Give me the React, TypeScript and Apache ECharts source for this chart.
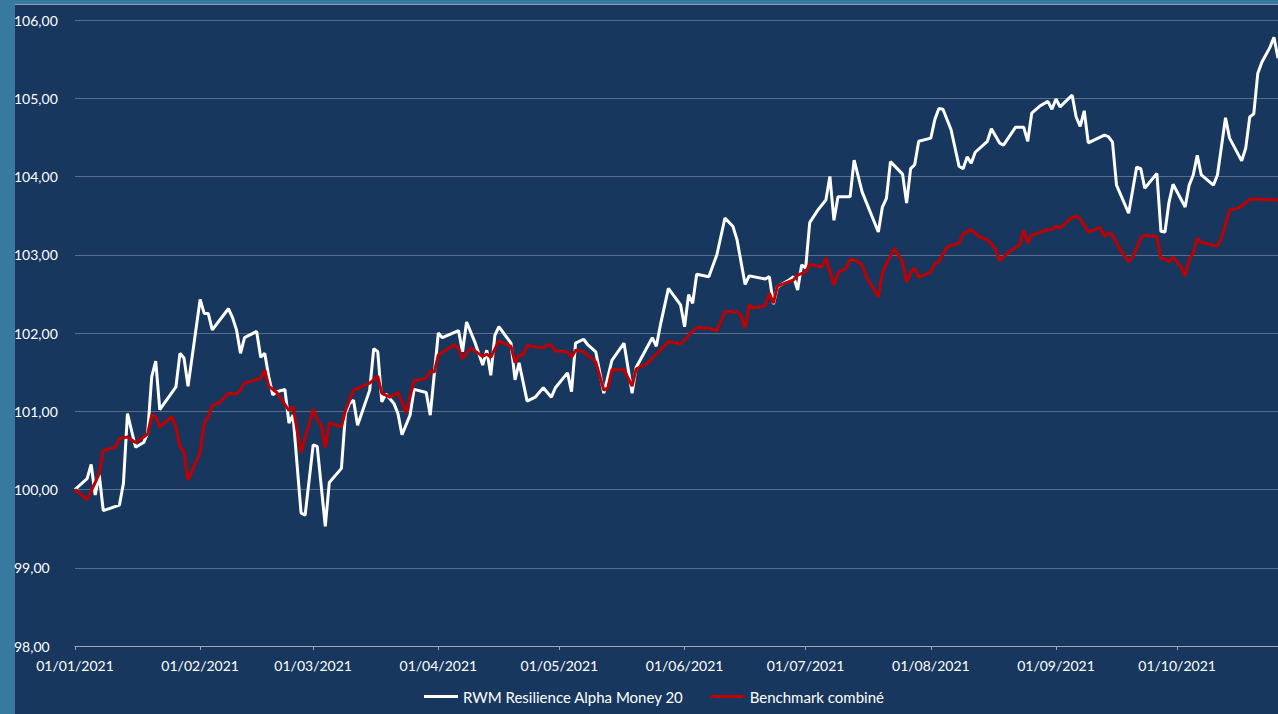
import React, { useEffect, useRef } from "react";
import * as echarts from "echarts";

const fundName = "RWM Resilience Alpha Money 20";
const benchName = "Benchmark combiné";

const axisStart = "2021-01-01";
const axisEnd = "2021-10-26";
const monthTicks = [
  "2021-01-01", "2021-02-01", "2021-03-01", "2021-04-01", "2021-05-01",
  "2021-06-01", "2021-07-01", "2021-08-01", "2021-09-01", "2021-10-01",
];
const yMin = 98;
const yMax = 106;
const yStep = 1;

const fundDates = [
  "2021-01-01", "2021-01-04", "2021-01-05", "2021-01-06", "2021-01-07", "2021-01-08", "2021-01-12", "2021-01-13",
  "2021-01-14", "2021-01-16", "2021-01-18", "2021-01-19", "2021-01-20", "2021-01-21", "2021-01-22", "2021-01-26",
  "2021-01-27", "2021-01-28", "2021-01-29", "2021-02-01", "2021-02-02", "2021-02-03", "2021-02-04", "2021-02-08",
  "2021-02-09", "2021-02-10", "2021-02-11", "2021-02-12", "2021-02-15", "2021-02-16", "2021-02-17", "2021-02-18",
  "2021-02-19", "2021-02-20", "2021-02-22", "2021-02-23", "2021-02-24", "2021-02-26", "2021-02-27", "2021-03-01",
  "2021-03-02", "2021-03-04", "2021-03-05", "2021-03-08", "2021-03-09", "2021-03-10", "2021-03-11", "2021-03-12",
  "2021-03-15", "2021-03-16", "2021-03-17", "2021-03-18", "2021-03-19", "2021-03-21", "2021-03-22", "2021-03-23",
  "2021-03-25", "2021-03-26", "2021-03-29", "2021-03-30", "2021-04-01", "2021-04-02", "2021-04-06", "2021-04-07",
  "2021-04-08", "2021-04-10", "2021-04-12", "2021-04-13", "2021-04-14", "2021-04-15", "2021-04-16", "2021-04-19",
  "2021-04-20", "2021-04-21", "2021-04-23", "2021-04-25", "2021-04-27", "2021-04-29", "2021-04-30", "2021-05-03",
  "2021-05-04", "2021-05-05", "2021-05-07", "2021-05-08", "2021-05-10", "2021-05-12", "2021-05-14", "2021-05-17",
  "2021-05-19", "2021-05-20", "2021-05-24", "2021-05-25", "2021-05-26", "2021-05-28", "2021-05-31", "2021-06-01",
  "2021-06-02", "2021-06-03", "2021-06-04", "2021-06-07", "2021-06-09", "2021-06-11", "2021-06-13", "2021-06-14",
  "2021-06-16", "2021-06-17", "2021-06-21", "2021-06-22", "2021-06-23", "2021-06-24", "2021-06-27", "2021-06-28",
  "2021-06-29", "2021-06-30", "2021-07-01", "2021-07-02", "2021-07-04", "2021-07-06", "2021-07-07", "2021-07-08",
  "2021-07-09", "2021-07-12", "2021-07-13", "2021-07-15", "2021-07-19", "2021-07-20", "2021-07-21", "2021-07-22",
  "2021-07-25", "2021-07-26", "2021-07-27", "2021-07-28", "2021-07-29", "2021-08-01", "2021-08-02", "2021-08-03",
  "2021-08-04", "2021-08-06", "2021-08-08", "2021-08-09", "2021-08-10", "2021-08-11", "2021-08-12", "2021-08-15",
  "2021-08-16", "2021-08-18", "2021-08-19", "2021-08-22", "2021-08-24", "2021-08-25", "2021-08-26", "2021-08-28",
  "2021-08-30", "2021-08-31", "2021-09-01", "2021-09-02", "2021-09-05", "2021-09-06", "2021-09-07", "2021-09-08",
  "2021-09-09", "2021-09-13", "2021-09-14", "2021-09-15", "2021-09-16", "2021-09-19", "2021-09-21", "2021-09-22",
  "2021-09-23", "2021-09-26", "2021-09-27", "2021-09-28", "2021-09-29", "2021-09-30", "2021-10-03", "2021-10-04",
  "2021-10-05", "2021-10-06", "2021-10-07", "2021-10-10", "2021-10-11", "2021-10-13", "2021-10-14", "2021-10-17",
  "2021-10-18", "2021-10-19", "2021-10-20", "2021-10-21", "2021-10-22", "2021-10-24", "2021-10-25", "2021-10-26",
];
const fundValues = [
  100.0, 100.14, 100.32, 99.93, 100.19, 99.73, 99.8, 100.08,
  100.97, 100.54, 100.6, 100.72, 101.44, 101.64, 101.02, 101.31,
  101.74, 101.68, 101.32, 102.43, 102.25, 102.25, 102.04, 102.31,
  102.2, 102.04, 101.74, 101.94, 102.02, 101.69, 101.74, 101.44,
  101.21, 101.25, 101.28, 100.85, 100.95, 99.7, 99.67, 100.57,
  100.55, 99.53, 100.09, 100.27, 100.97, 101.1, 101.14, 100.82,
  101.27, 101.8, 101.76, 101.12, 101.22, 101.1, 100.97, 100.7,
  100.95, 101.28, 101.24, 100.95, 102.0, 101.94, 102.03, 101.76,
  102.14, 101.89, 101.59, 101.78, 101.46, 101.97, 102.08, 101.87,
  101.4, 101.62, 101.13, 101.18, 101.3, 101.18, 101.3, 101.49,
  101.25, 101.87, 101.92, 101.85, 101.76, 101.23, 101.65, 101.87,
  101.23, 101.56, 101.94, 101.83, 102.1, 102.57, 102.36, 102.08,
  102.49, 102.38, 102.75, 102.72, 103.0, 103.47, 103.36, 103.19,
  102.62, 102.73, 102.69, 102.72, 102.37, 102.59, 102.68, 102.72,
  102.55, 102.87, 102.83, 103.41, 103.57, 103.7, 104.0, 103.44,
  103.74, 103.74, 104.21, 103.8, 103.29, 103.61, 103.72, 104.19,
  104.03, 103.66, 104.1, 104.15, 104.45, 104.49, 104.73, 104.87,
  104.86, 104.6, 104.13, 104.1, 104.25, 104.17, 104.31, 104.45,
  104.61, 104.43, 104.4, 104.63, 104.63, 104.45, 104.81, 104.9,
  104.96, 104.86, 104.99, 104.89, 105.04, 104.76, 104.64, 104.84,
  104.43, 104.53, 104.51, 104.44, 103.89, 103.53, 104.12, 104.1,
  103.85, 104.04, 103.3, 103.29, 103.67, 103.9, 103.61, 103.89,
  104.02, 104.27, 104.02, 103.89, 104.02, 104.75, 104.49, 104.2,
  104.36, 104.76, 104.8, 105.32, 105.46, 105.65, 105.78, 105.51,
];

const benchDates = [
  "2021-01-01", "2021-01-04", "2021-01-07", "2021-01-08", "2021-01-11", "2021-01-12", "2021-01-14", "2021-01-16",
  "2021-01-18", "2021-01-19", "2021-01-20", "2021-01-21", "2021-01-22", "2021-01-25", "2021-01-26", "2021-01-27",
  "2021-01-28", "2021-01-29", "2021-02-01", "2021-02-02", "2021-02-03", "2021-02-04", "2021-02-06", "2021-02-08",
  "2021-02-10", "2021-02-11", "2021-02-12", "2021-02-16", "2021-02-17", "2021-02-18", "2021-02-20", "2021-02-23",
  "2021-02-24", "2021-02-26", "2021-03-01", "2021-03-02", "2021-03-03", "2021-03-04", "2021-03-05", "2021-03-08",
  "2021-03-09", "2021-03-11", "2021-03-15", "2021-03-17", "2021-03-18", "2021-03-20", "2021-03-22", "2021-03-24",
  "2021-03-26", "2021-03-29", "2021-03-30", "2021-03-31", "2021-04-01", "2021-04-05", "2021-04-06", "2021-04-07",
  "2021-04-09", "2021-04-12", "2021-04-13", "2021-04-14", "2021-04-16", "2021-04-19", "2021-04-20", "2021-04-21",
  "2021-04-22", "2021-04-23", "2021-04-27", "2021-04-28", "2021-04-29", "2021-04-30", "2021-05-03", "2021-05-04",
  "2021-05-05", "2021-05-07", "2021-05-10", "2021-05-12", "2021-05-13", "2021-05-14", "2021-05-17", "2021-05-19",
  "2021-05-20", "2021-05-23", "2021-05-24", "2021-05-26", "2021-05-28", "2021-05-31", "2021-06-01", "2021-06-02",
  "2021-06-04", "2021-06-07", "2021-06-09", "2021-06-11", "2021-06-14", "2021-06-15", "2021-06-16", "2021-06-17",
  "2021-06-18", "2021-06-21", "2021-06-22", "2021-06-23", "2021-06-24", "2021-06-28", "2021-06-29", "2021-07-01",
  "2021-07-02", "2021-07-05", "2021-07-06", "2021-07-08", "2021-07-09", "2021-07-11", "2021-07-12", "2021-07-13",
  "2021-07-15", "2021-07-16", "2021-07-19", "2021-07-20", "2021-07-21", "2021-07-23", "2021-07-25", "2021-07-26",
  "2021-07-27", "2021-07-28", "2021-07-29", "2021-08-01", "2021-08-02", "2021-08-03", "2021-08-05", "2021-08-08",
  "2021-08-09", "2021-08-11", "2021-08-13", "2021-08-15", "2021-08-17", "2021-08-18", "2021-08-20", "2021-08-23",
  "2021-08-24", "2021-08-25", "2021-08-26", "2021-08-30", "2021-08-31", "2021-09-01", "2021-09-02", "2021-09-05",
  "2021-09-06", "2021-09-07", "2021-09-09", "2021-09-12", "2021-09-13", "2021-09-14", "2021-09-15", "2021-09-17",
  "2021-09-19", "2021-09-20", "2021-09-22", "2021-09-23", "2021-09-26", "2021-09-27", "2021-09-28", "2021-09-29",
  "2021-09-30", "2021-10-02", "2021-10-03", "2021-10-04", "2021-10-05", "2021-10-06", "2021-10-07", "2021-10-10",
  "2021-10-11", "2021-10-12", "2021-10-14", "2021-10-15", "2021-10-17", "2021-10-19", "2021-10-21", "2021-10-26",
];
const benchValues = [
  100.0, 99.87, 100.2, 100.5, 100.54, 100.65, 100.67, 100.6,
  100.67, 100.71, 100.95, 100.93, 100.8, 100.93, 100.8, 100.54,
  100.49, 100.12, 100.47, 100.85, 100.93, 101.07, 101.12, 101.23,
  101.22, 101.27, 101.36, 101.42, 101.53, 101.32, 101.24, 101.01,
  101.06, 100.47, 101.03, 100.89, 100.82, 100.53, 100.85, 100.8,
  101.01, 101.27, 101.36, 101.45, 101.23, 101.18, 101.24, 100.98,
  101.39, 101.42, 101.51, 101.5, 101.72, 101.85, 101.8, 101.67,
  101.81, 101.7, 101.73, 101.69, 101.9, 101.83, 101.62, 101.72,
  101.72, 101.84, 101.81, 101.85, 101.84, 101.77, 101.76, 101.69,
  101.78, 101.76, 101.63, 101.27, 101.3, 101.53, 101.53, 101.32,
  101.54, 101.62, 101.68, 101.78, 101.89, 101.86, 101.91, 101.97,
  102.07, 102.06, 102.03, 102.27, 102.27, 102.22, 102.06, 102.36,
  102.32, 102.35, 102.51, 102.38, 102.6, 102.68, 102.74, 102.78,
  102.88, 102.84, 102.96, 102.61, 102.77, 102.83, 102.94, 102.94,
  102.87, 102.72, 102.46, 102.76, 102.89, 103.08, 102.91, 102.65,
  102.77, 102.83, 102.71, 102.78, 102.89, 102.91, 103.1, 103.15,
  103.27, 103.32, 103.23, 103.19, 103.08, 102.92, 103.02, 103.13,
  103.31, 103.15, 103.25, 103.32, 103.32, 103.37, 103.34, 103.48,
  103.49, 103.46, 103.29, 103.35, 103.23, 103.28, 103.25, 103.06,
  102.91, 102.97, 103.21, 103.25, 103.23, 102.95, 102.95, 102.91,
  102.97, 102.84, 102.73, 102.94, 103.02, 103.21, 103.16, 103.12,
  103.11, 103.21, 103.57, 103.58, 103.62, 103.71, 103.71, 103.7,
];

const NAVY = "#17375e";
const STRIP = "#37799f";
const FONT = "Lato, 'Open Sans', sans-serif";

function ts(s: string): number {
  const [y, m, d] = s.split("-").map(Number);
  return Date.UTC(y, m - 1, d);
}

function fmtDate(v: number): string {
  const d = new Date(v);
  const dd = String(d.getUTCDate()).padStart(2, "0");
  const mm = String(d.getUTCMonth() + 1).padStart(2, "0");
  return `${dd}/${mm}/${d.getUTCFullYear()}`;
}

export default function App() {
  const ref = useRef<HTMLDivElement>(null);

  useEffect(() => {
    if (!ref.current) return;
    document.body.style.margin = "0";
    const chart = echarts.init(ref.current, undefined, { renderer: "svg" });
    const tickValues = monthTicks.map(ts);
    const option: any = {
      animation: false,
      backgroundColor: NAVY,
      textStyle: { fontFamily: FONT },
      graphic: [
        { type: "rect", left: 0, top: 0, shape: { x: 0, y: 0, width: 15, height: 714 }, style: { fill: STRIP }, silent: true },
        { type: "rect", left: 15, top: 0, shape: { x: 0, y: 0, width: 1263, height: 4 }, style: { fill: STRIP }, silent: true },
        { type: "rect", left: 15, top: 4, shape: { x: 0, y: 0, width: 1263, height: 1 }, style: { fill: "#8b9db3" }, silent: true },
      ],
      grid: { left: 75, right: 0, top: 20, bottom: 68, containLabel: false },
      legend: {
        data: [fundName, benchName],
        left: 424,
        top: 689,
        padding: 0,
        icon: "rect",
        itemWidth: 34,
        itemHeight: 3,
        itemGap: 27,
        textStyle: { color: "#ffffff", fontSize: 15, fontFamily: FONT },
      },
      xAxis: {
        type: "value",
        min: ts(axisStart),
        max: ts(axisEnd),
        axisLine: { show: true, lineStyle: { color: "#a6a6a6", width: 1 } },
        axisTick: { show: true, customValues: tickValues, length: 4, lineStyle: { color: "#a6a6a6" } },
        axisLabel: {
          customValues: tickValues,
          formatter: (v: number) => fmtDate(v),
          color: "#ffffff",
          fontSize: 14,
          fontFamily: FONT,
          margin: 12,
          hideOverlap: false,
        },
        splitLine: { show: false },
      },
      yAxis: {
        type: "value",
        min: yMin,
        max: yMax,
        interval: yStep,
        axisLine: { show: false },
        axisTick: { show: false },
        axisLabel: {
          formatter: (v: number) => v.toFixed(2).replace(".", ","),
          color: "#ffffff",
          fontSize: 14,
          fontFamily: FONT,
          align: "left",
          margin: 61,
        },
        splitLine: { lineStyle: { color: "rgba(255,255,255,0.28)", width: 1 } },
      },
      series: [
        {
          name: fundName,
          type: "line",
          showSymbol: false,
          symbol: "none",
          data: fundDates.map((d, i) => [ts(d), fundValues[i]]),
          lineStyle: { color: "#ffffff", width: 3 },
          itemStyle: { color: "#ffffff" },
        },
        {
          name: benchName,
          type: "line",
          showSymbol: false,
          symbol: "none",
          data: benchDates.map((d, i) => [ts(d), benchValues[i]]),
          lineStyle: { color: "#c00000", width: 3 },
          itemStyle: { color: "#c00000" },
        },
      ],
    };
    chart.setOption(option);
    return () => chart.dispose();
  }, []);

  return (
    <div
      ref={ref}
      style={{ position: "fixed", left: 0, top: 0, width: 1278, height: 714 }}
    />
  );
}
